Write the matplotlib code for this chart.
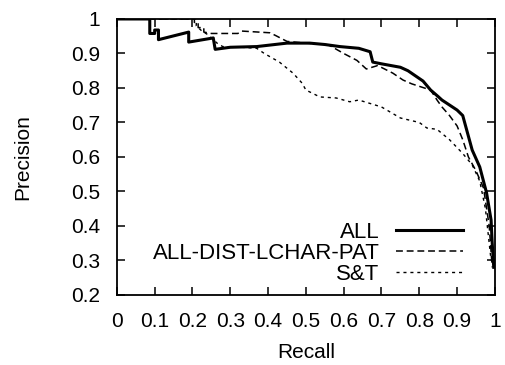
import matplotlib
matplotlib.use("Agg")
import matplotlib.pyplot as plt
import numpy as np

plt.rcParams['font.family'] = ['Liberation Sans', 'DejaVu Sans']
FS = 15

# Precision-recall curves
all_recall = [0, 0.087, 0.087, 0.10, 0.10, 0.11, 0.11, 0.19, 0.19, 0.255, 0.26,
              0.30, 0.37, 0.45, 0.51, 0.55, 0.59, 0.64, 0.67, 0.677, 0.70,
              0.75, 0.77, 0.81, 0.83, 0.85, 0.86, 0.90, 0.915, 0.925, 0.94,
              0.96, 0.978, 0.99, 0.993, 0.997]
all_prec = [1, 1, 0.958, 0.958, 0.968, 0.968, 0.94, 0.962, 0.933, 0.945, 0.912,
            0.918, 0.92, 0.93, 0.93, 0.926, 0.92, 0.915, 0.905, 0.875, 0.87,
            0.86, 0.85, 0.82, 0.794, 0.775, 0.765, 0.736, 0.72, 0.68, 0.62,
            0.571, 0.496, 0.417, 0.35, 0.28]

adlp_recall = [0, 0.205, 0.205, 0.215, 0.215, 0.23, 0.23, 0.25, 0.32, 0.33,
               0.405, 0.42, 0.45, 0.50, 0.56, 0.60, 0.635, 0.66, 0.69, 0.73,
               0.757, 0.78, 0.83, 0.847, 0.86, 0.88, 0.90, 0.915, 0.93, 0.95,
               0.97, 0.985, 0.993]
adlp_prec = [1, 1, 0.99, 0.99, 0.975, 0.975, 0.962, 0.958, 0.958, 0.965,
             0.96, 0.952, 0.935, 0.93, 0.925, 0.90, 0.88, 0.855, 0.865, 0.843,
             0.823, 0.812, 0.794, 0.765, 0.745, 0.72, 0.69, 0.65, 0.60, 0.56,
             0.51, 0.40, 0.28]

st_recall = [0, 0.21, 0.21, 0.225, 0.24, 0.265, 0.28, 0.33, 0.37, 0.39, 0.43,
             0.466, 0.49, 0.50, 0.537, 0.58, 0.616, 0.64, 0.70, 0.75, 0.80,
             0.82, 0.847, 0.88, 0.915, 0.94, 0.96, 0.975, 0.99]
st_prec = [1, 1, 0.98, 0.965, 0.955, 0.93, 0.92, 0.918, 0.915, 0.90, 0.875,
           0.843, 0.814, 0.794, 0.774, 0.771, 0.76, 0.765, 0.745, 0.713, 0.70,
           0.684, 0.68, 0.65, 0.61, 0.577, 0.53, 0.45, 0.30]

labels = ["ALL", "ALL-DIST-LCHAR-PAT", "S&T"]
xticks = [0, 0.1, 0.2, 0.3, 0.4, 0.5, 0.6, 0.7, 0.8, 0.9, 1]
xticklabels = ["0", "0.1", "0.2", "0.3", "0.4", "0.5", "0.6", "0.7", "0.8", "0.9", "1"]
yticks = [0.2, 0.3, 0.4, 0.5, 0.6, 0.7, 0.8, 0.9, 1]
yticklabels = ["0.2", "0.3", "0.4", "0.5", "0.6", "0.7", "0.8", "0.9", "1"]

fig = plt.figure(figsize=(5.06, 3.65), dpi=100)
ax = fig.add_axes([0.231, 0.192, 0.747, 0.756])

ax.plot(all_recall, all_prec, color='black', lw=2.2, label=labels[0])
ax.plot(adlp_recall, adlp_prec, color='black', lw=1.1, dashes=(4.5, 2.5), label=labels[1])
ax.plot(st_recall, st_prec, color='black', lw=1.0, dashes=(2.2, 2.8), label=labels[2])

ax.set_xlim(0, 1)
ax.set_ylim(0.2, 1)
ax.set_xticks(xticks)
ax.set_xticklabels(xticklabels)
ax.set_yticks(yticks)
ax.set_yticklabels(yticklabels)
ax.tick_params(direction='in', length=6, width=1.1, top=True, right=True,
               labelsize=FS, pad=12)
for sp in ax.spines.values():
    sp.set_linewidth(1.3)

ax.set_xlabel("Recall", fontsize=FS, labelpad=9)
ax.set_ylabel("Precision", fontsize=FS, labelpad=28)

leg = ax.legend(loc='lower right', bbox_to_anchor=(0.915, 0.035), frameon=False,
                markerfirst=False, fontsize=16, handlelength=3.0,
                handletextpad=0.75, labelspacing=0.0, borderpad=0, borderaxespad=0)
for t in leg.get_texts():
    t.set_ha('right')

fig.savefig("out.png", dpi=100)
